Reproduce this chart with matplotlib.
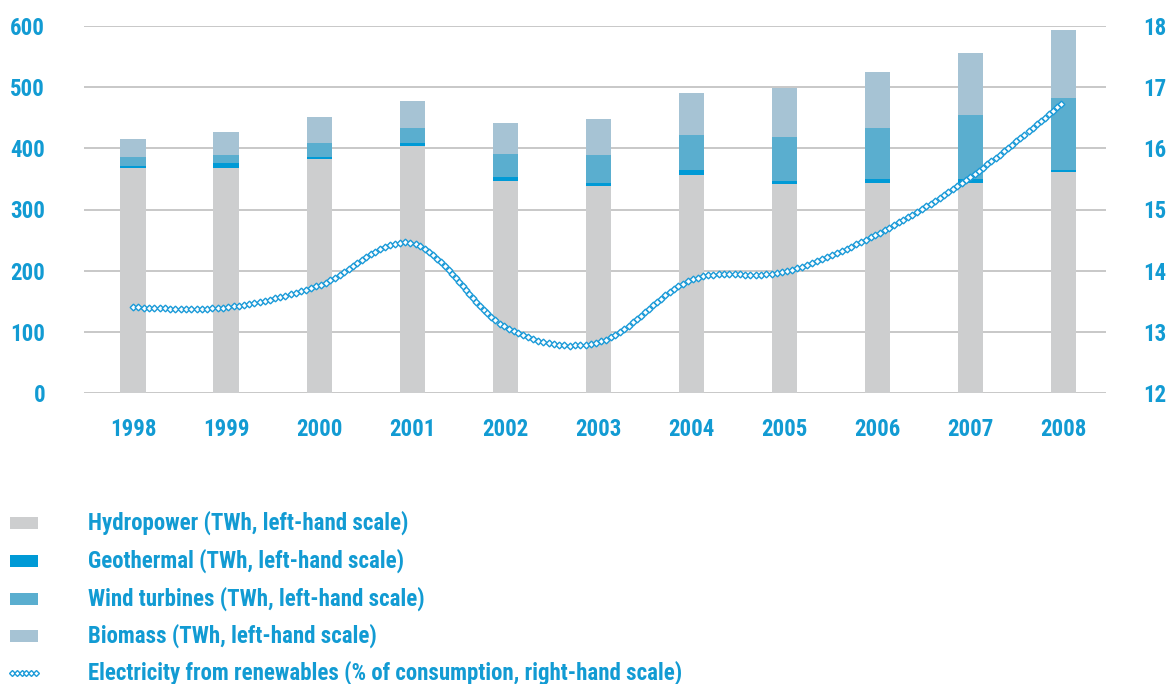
import numpy as np
import matplotlib
matplotlib.use("Agg")
import matplotlib.pyplot as plt
from matplotlib import font_manager
from matplotlib.patches import Rectangle
from matplotlib.lines import Line2D

years = ["1998", "1999", "2000", "2001", "2002", "2003", "2004", "2005", "2006", "2007", "2008"]
hydro = [368, 368, 383, 404, 347, 338, 356, 342, 344, 344, 361]
geothermal = [3, 8, 3, 5, 6, 5, 9, 5, 6, 6, 4]
wind = [15, 13, 23, 24, 38, 46, 57, 71, 83, 104, 118]
biomass = [29, 38, 42, 44, 50, 59, 68, 81, 92, 102, 110]
renew_share = [13.40, 13.40, 13.76, 14.45, 13.08, 12.83, 13.85, 13.98, 14.60, 15.53, 16.75]

legend_labels = [
    "Hydropower (TWh, left-hand scale)",
    "Geothermal (TWh, left-hand scale)",
    "Wind turbines (TWh, left-hand scale)",
    "Biomass (TWh, left-hand scale)",
    "Electricity from renewables (% of consumption, right-hand scale)",
]

C_HYDRO = "#cdcecf"
C_GEO = "#009ad6"
C_WIND = "#5aaecf"
C_BIO = "#a6c3d4"
C_TEXT = "#129bd3"
C_LINE = "#1a9ad8"
C_GRID = "#c4c4c4"

names = {f.name for f in font_manager.fontManager.ttflist}
FONT = None
for cand in ["Roboto Condensed", "Liberation Sans Narrow", "Open Sans Condensed", "DejaVu Sans Condensed"]:
    if cand in names:
        FONT = dict(family=cand, weight="bold")
        break
if FONT is None:
    FONT = dict(family="DejaVu Sans", weight="bold", stretch="condensed")

W, H = 1166, 684
fig = plt.figure(figsize=(W / 100, H / 100), dpi=100)
ax = fig.add_axes([84 / W, 1 - 393 / H, (1106 - 84) / W, (393 - 26) / H])
ax2 = ax.twinx()

x = np.arange(len(years))
bw = 0.27
bottom = np.zeros(len(years))
for vals, col in [(hydro, C_HYDRO), (geothermal, C_GEO), (wind, C_WIND), (biomass, C_BIO)]:
    ax.bar(x, vals, bw, bottom=bottom, color=col, zorder=2, linewidth=0)
    bottom = bottom + np.array(vals)

ax.set_xlim(-0.527, 10.46)
ax.set_ylim(0, 600)
ax.set_yticks(range(0, 601, 100))
ax.yaxis.grid(True, color=C_GRID, linewidth=1.3, zorder=0)
ax.set_axisbelow(True)
for s in ax.spines.values():
    s.set_visible(False)
for s in ax2.spines.values():
    s.set_visible(False)
TS = 16.5
ax.tick_params(axis="both", length=0, labelsize=TS, labelcolor=C_TEXT)
ax.tick_params(axis="y", pad=28)
ax.tick_params(axis="x", pad=18)
ax.set_xticks(x)
ax.set_xticklabels(years)
for lab in ax.get_xticklabels() + ax.get_yticklabels():
    lab.set(**FONT)

ax2.set_ylim(12, 18)
ax2.set_yticks(range(12, 19))
ax2.tick_params(axis="y", length=0, labelsize=TS, labelcolor=C_TEXT, pad=27)
for lab in ax2.get_yticklabels():
    lab.set(**FONT)

# smoothed line (Bezier through the yearly points), drawn as a chain of small diamonds
y = np.array(renew_share)
n = len(y)
pts = np.column_stack([x, y]).astype(float)
ext = np.vstack([pts[0], pts, pts[-1]])
curve = []
t = np.linspace(0, 1, 200)[:, None]
for i in range(n - 1):
    p0 = ext[i + 1]
    p3 = ext[i + 2]
    c1 = p0 + (ext[i + 2] - ext[i]) / 6
    c2 = p3 - (ext[i + 3] - ext[i + 1]) / 6
    seg = (1 - t) ** 3 * p0 + 3 * (1 - t) ** 2 * t * c1 + 3 * (1 - t) * t ** 2 * c2 + t ** 3 * p3
    curve.append(seg if i == 0 else seg[1:])
curve = np.vstack(curve)
disp = ax2.transData.transform(curve)
d = np.concatenate([[0], np.cumsum(np.hypot(*np.diff(disp, axis=0).T))])
step = 5.3
targets = np.arange(0, d[-1] + 0.01, step)
mx = np.interp(targets, d, curve[:, 0])
my = np.interp(targets, d, curve[:, 1])
ax2.plot(mx, my, linestyle="none", marker="D", markersize=3.4, markerfacecolor="white",
         markeredgecolor=C_LINE, markeredgewidth=1.0, zorder=3)

# legend
rows = [523, 561, 599, 636, 673]
for i, (lab, col) in enumerate(zip(legend_labels, [C_HYDRO, C_GEO, C_WIND, C_BIO, None])):
    yy = 1 - rows[i] / H
    if col is not None:
        fig.patches.append(Rectangle((10 / W, yy - 6 / H), 28 / W, 12 / H, transform=fig.transFigure,
                                     facecolor=col, edgecolor="none"))
    else:
        fig.lines.append(Line2D(np.linspace(12 / W, 36 / W, 6), [yy] * 6, transform=fig.transFigure,
                                linestyle="none", marker="D", markersize=3.0, markerfacecolor="white",
                                markeredgecolor=C_LINE, markeredgewidth=1.0))
    fig.text(88 / W, yy, lab, color=C_TEXT, fontsize=TS, va="center", ha="left", **FONT)

fig.savefig("out.png", dpi=100)
